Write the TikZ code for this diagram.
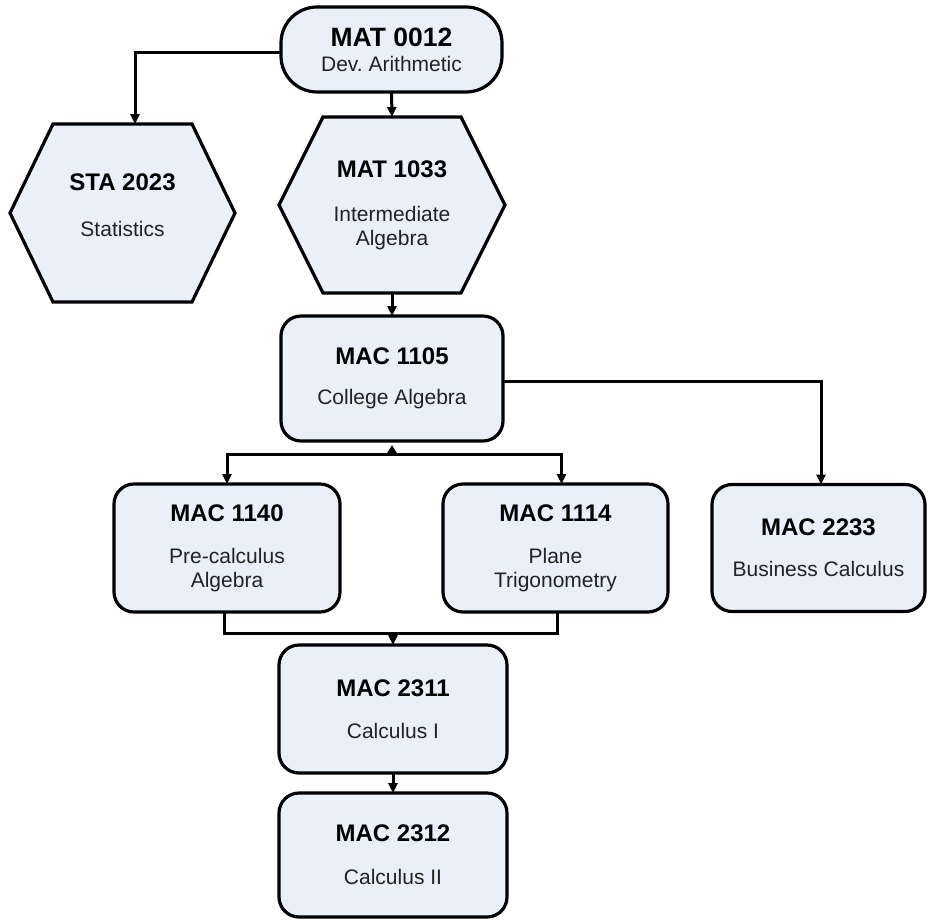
\documentclass[tikz,border=0pt]{standalone}
\usepackage{fontspec}
\setmainfont{Liberation Sans}
\usetikzlibrary{arrows.meta,calc,backgrounds}
\definecolor{boxfill}{HTML}{EAEFF8}
\definecolor{txtgray}{HTML}{222222}
\newcommand\ctitle[1]{{\fontsize{24}{24}\selectfont\bfseries\color{black}#1}}
\frenchspacing
\begin{document}
\begin{tikzpicture}[x=1pt,y=-1pt,
  every node/.style={inner sep=0pt, outer sep=0pt},
  base/.style={align=center, font=\fontsize{21}{24}\selectfont\frenchspacing, text=txtgray},
  box/.style={base, draw=black, line width=3.2pt, fill=boxfill, rounded corners=20pt},
  hexnode/.style={base},
  hexshape/.style={draw=black, line width=3.2pt, fill=boxfill, line join=miter},
  conn/.style={draw=black, line width=3pt, -{Triangle[length=10pt,width=9pt]}},
  plain/.style={draw=black, line width=3pt}
]
\useasboundingbox (0,0) rectangle (928,921);

\node[box, rounded corners=36pt, minimum width=221pt, minimum height=85pt] (mat0012) at (391.5,49.5)
  {{\fontsize{26.5}{24}\selectfont\bfseries\color{black}MAT 0012}\\[1pt]Dev. Arithmetic};

\node[hexnode, minimum width=225pt, minimum height=178pt,
  label={[base, yshift=8pt]center:{\ctitle{STA 2023}\\[22pt]Statistics}}] (sta) at (122.5,213) {};

\node[hexnode, minimum width=226pt, minimum height=176pt] (mat1033) at (392,205)
  {\ctitle{MAT 1033}\\[20pt]Intermediate\\Algebra};

\begin{scope}[on background layer]
\foreach \n/\dd in {sta/43, mat1033/44}
  \draw[hexshape] (\n.west) -- ([xshift=\dd pt]\n.north west) -- ([xshift=-\dd pt]\n.north east)
     -- (\n.east) -- ([xshift=-\dd pt]\n.south east) -- ([xshift=\dd pt]\n.south west) -- cycle;
\end{scope}

\node[box, minimum width=222pt, minimum height=125pt] (mac1105) at (392,378.5)
  {\ctitle{MAC 1105}\\[16pt]College Algebra};
\node[box, minimum width=226pt, minimum height=128pt] (mac1140) at (227,548)
  {\ctitle{MAC 1140}\\[18pt]Pre-calculus\\Algebra};
\node[box, minimum width=225pt, minimum height=128pt] (mac1114) at (555.5,548)
  {\ctitle{MAC 1114}\\[18pt]Plane\\Trigonometry};
\node[box, minimum width=213pt, minimum height=127pt] (mac2233) at (818.5,548)
  {\ctitle{MAC 2233}\\[17pt]Business Calculus};
\node[box, minimum width=228pt, minimum height=128pt] (mac2311) at (393,709)
  {\ctitle{MAC 2311}\\[18pt]Calculus I};
\node[box, minimum width=228pt, minimum height=124pt] (mac2312) at (393,855)
  {\ctitle{MAC 2312}\\[19pt]Calculus II};

\draw[conn] ([yshift=-2.5pt]mat0012.west) -| ([xshift=12.5pt]sta.north);
\draw[conn] (mat0012.south) -- (mat1033.north);
\draw[conn] (mat1033.south) -- (mac1105.north);

\coordinate (split) at ($(mac1105.south)+(0,13)$);
\draw[plain, {Triangle[length=8pt,width=9pt]}-] ([yshift=-4pt]mac1105.south) -- (split);
\draw[conn] (split) -| (mac1140.north);
\draw[conn] (split) -| ([xshift=6pt]mac1114.north);
\draw[conn] ([yshift=-2.5pt]mac1105.east) -| ([xshift=2.5pt]mac2233.north);

\coordinate (merge) at ($(mac2311.north)+(0,-12)$);
\draw[plain] ([xshift=-3pt]mac1140.south) |- (merge) -| ([xshift=1.5pt]mac1114.south);
\draw[conn] (merge) -- (mac2311.north);
\draw[conn] (mac2311.south) -- (mac2312.north);
\end{tikzpicture}
\end{document}
